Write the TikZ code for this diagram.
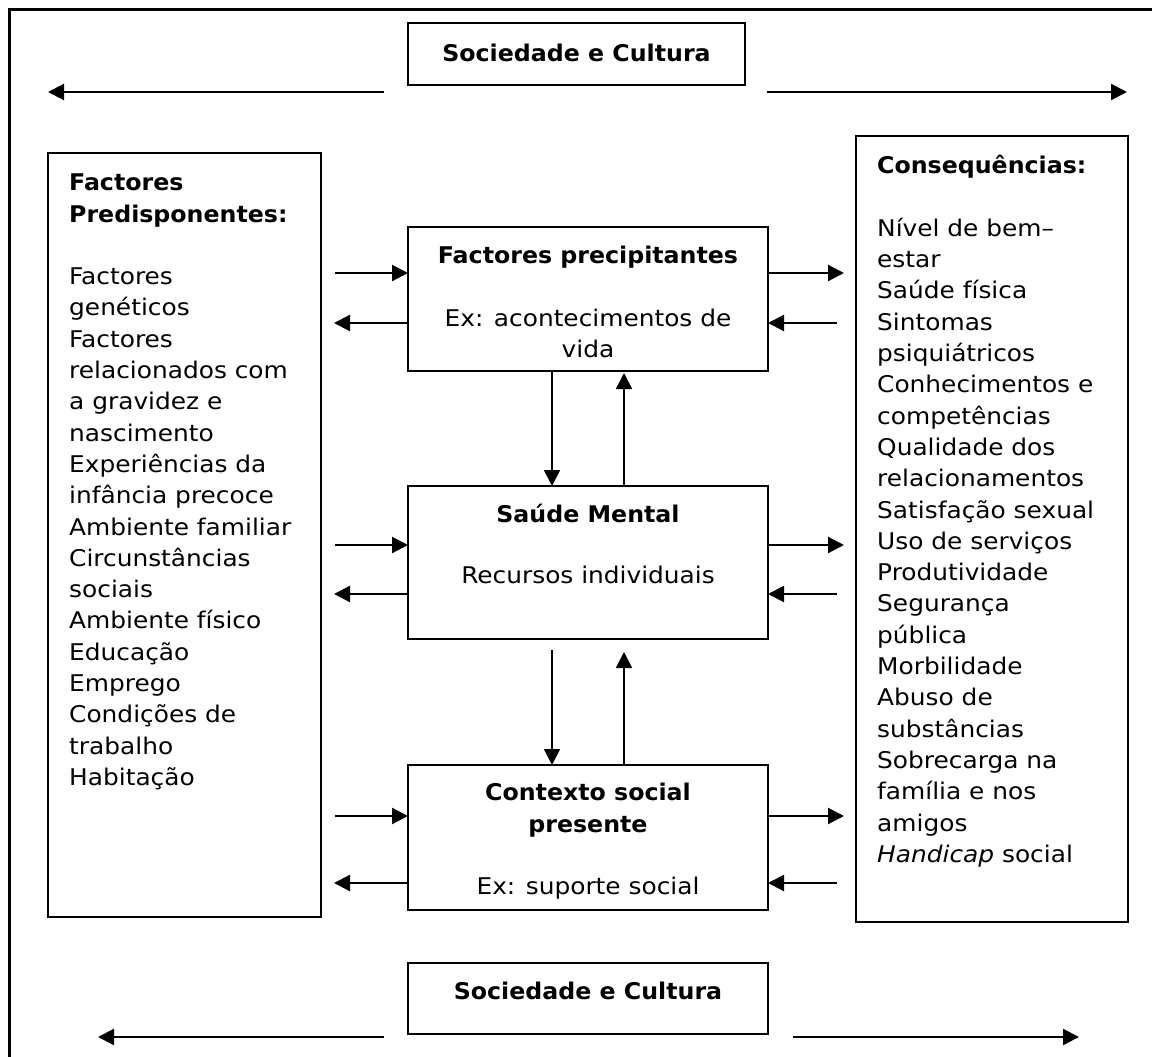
\documentclass[tikz,border=0pt]{standalone}
\usepackage{fontspec}
\setmainfont{DejaVu Sans}[FakeStretch=1.08,BoldFeatures={FakeStretch=1.03}]
\usetikzlibrary{arrows.meta}
\begin{document}
\begin{tikzpicture}[x=1pt,y=-1pt,
  every node/.style={font=\fontsize{23}{31.3}\selectfont},
  box/.style={draw, line width=2.4pt, rectangle, inner sep=0pt, outer sep=0pt, anchor=north west},
  txt/.style={inner sep=0pt, align=left, anchor=north west},
  ctr/.style={inner sep=0pt, align=center, anchor=north},
  one/.style={inner sep=0pt, anchor=base},
  arr/.style={line width=2.2pt, -{Triangle[length=16pt,width=16pt]}},
  varr/.style={line width=1.8pt, -{Triangle[length=16pt,width=16pt]}}]
\useasboundingbox (0,0) rectangle (1152,1057);

% outer frame (top and left edges)
\draw[line width=2.4pt] (1152,9.5) -- (9.5,9.5) -- (9.5,1057);

% boxes
\node[box, minimum width=337, minimum height=62]  (socT)  at (408,23)  {};
\node[box, minimum width=273, minimum height=764] (pred)  at (48,153)  {};
\node[box, minimum width=272, minimum height=786] (cons)  at (856,136) {};
\node[box, minimum width=360, minimum height=144] (prec)  at (408,227) {};
\node[box, minimum width=360, minimum height=153] (saude) at (408,486) {};
\node[box, minimum width=360, minimum height=145] (ctx)   at (408,765) {};
\node[box, minimum width=360, minimum height=71]  (socB)  at (408,963) {};

% box texts
\node[one] (socTt) at (576.5,61.5) {\textbf{Sociedade e Cultura}};
\node[one] (socBt) at (588,999) {\textbf{Sociedade e Cultura}};

\node[txt] (predt) at (69,168.6) {\strut\textbf{Factores}\\
\textbf{Predisponentes:}\\[31.3pt]
Factores\\
genéticos\\
Factores\\
relacionados com\\
a gravidez e\\
nascimento\\
Experiências da\\
infância precoce\\
Ambiente familiar\\
Circunstâncias\\
sociais\\
Ambiente físico\\
Educação\\
Emprego\\
Condições de\\
trabalho\\
Habitação};

\node[txt] (const) at (877,151.6) {\strut\textbf{Consequências:}\\[31.3pt]
Nível de bem--\\
estar\\
Saúde física\\
Sintomas\\
psiquiátricos\\
Conhecimentos e\\
competências\\
Qualidade dos\\
relacionamentos\\
Satisfação sexual\\
Uso de serviços\\
Produtividade\\
Segurança\\
pública\\
Morbilidade\\
Abuso de\\
substâncias\\
Sobrecarga na\\
família e nos\\
amigos\\
\textit{Handicap} social};

\node[ctr] (prect) at (588,241.6) {\strut\textbf{Factores precipitantes}\\[31.3pt]
Ex: acontecimentos de\\vida};
\node[ctr] (saudet) at (588,500.8) {\strut\textbf{Saúde Mental}\\[29pt]
Recursos individuais};
\node[ctr] (ctxt) at (588,778.8) {\strut\textbf{Contexto social}\\
\textbf{presente}\\[31.3pt]
Ex: suporte social};

% society arrows, top and bottom
\coordinate (tlA) at (384,92);  \coordinate (tlB) at (48,92);
\coordinate (trA) at (767,92);  \coordinate (trB) at (1127,92);
\coordinate (blA) at (384,1037); \coordinate (blB) at (98,1037);
\coordinate (brA) at (793,1037); \coordinate (brB) at (1079,1037);
\draw[arr] (tlA) -- (tlB);
\draw[arr] (trA) -- (trB);
\draw[arr] (blA) -- (blB);
\draw[arr] (brA) -- (brB);

% side arrows of the three central boxes
\foreach \b/\yi/\yo in {prec/273/323, saude/545/594, ctx/816/883}{
  \coordinate (\b-li) at (335,\yi);
  \coordinate (\b-lo) at (334,\yo);
  \coordinate (\b-ro) at (844,\yi);
  \coordinate (\b-ri) at (837,\yo);
  \draw[arr] (\b-li) -- (\b-li -| \b.west);
  \draw[arr] (\b-lo -| \b.west) -- (\b-lo);
  \draw[arr] (\b-ro -| \b.east) -- (\b-ro);
  \draw[arr] (\b-ri) -- (\b-ri -| \b.east);
}

% vertical arrows between the central boxes
\coordinate (d1) at (552,373);
\coordinate (u1) at (624,373);
\coordinate (d2) at (552,650);
\coordinate (u2) at (624,652);
\draw[varr] (d1 |- prec.south) -- (d1 |- saude.north);
\draw[varr] (u1 |- saude.north) -- (u1);
\draw[varr] (d2) -- (d2 |- ctx.north);
\draw[varr] (u2 |- ctx.north) -- (u2);
\end{tikzpicture}
\end{document}
